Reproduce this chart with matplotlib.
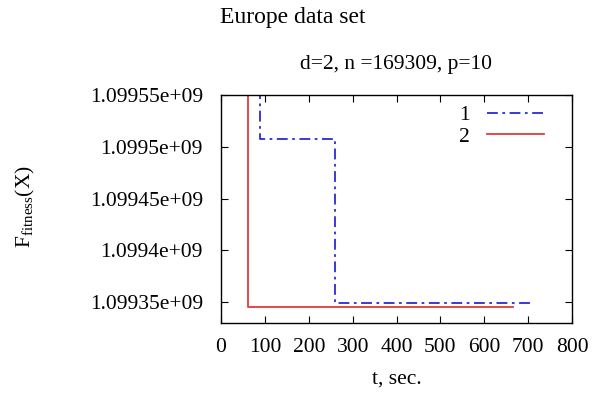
import matplotlib
matplotlib.use("Agg")
import matplotlib.pyplot as plt

# Data
t1 = [89, 89, 260, 260, 704]
f1 = [1.0996e9, 1.0995077e9, 1.0995077e9, 1.099349e9, 1.099349e9]
t2 = [62, 62, 666]
f2 = [1.0996e9, 1.099345e9, 1.099345e9]
xticks = [0, 100, 200, 300, 400, 500, 600, 700, 800]
yticks = [1.09935e9, 1.0994e9, 1.09945e9, 1.0995e9, 1.09955e9]
ytick_labels = ["1.09935e+09", "1.0994e+09", "1.09945e+09", "1.0995e+09", "1.09955e+09"]

plt.rcParams['font.family'] = ['Liberation Serif', 'DejaVu Serif']
plt.rcParams['mathtext.fontset'] = 'custom'
plt.rcParams['mathtext.rm'] = 'Liberation Serif'
plt.rcParams['mathtext.it'] = 'Liberation Serif'

FS = 15.5
fig = plt.figure(figsize=(5.94, 3.93), dpi=100)
ax = fig.add_axes([221/594, 1-323/393, (572-221)/594, (323-95)/393])

ax.plot(t1, f1, color='#2a2ad8', linestyle=(0, (6, 2.5, 1.5, 2.5)), linewidth=1.3, label='1')
ax.plot(t2, f2, color='#e8383c', linestyle='-', linewidth=1.3, label='2')

ax.set_xlim(0, 800)
ax.set_ylim(1.09933e9, 1.09955e9)
ax.set_xticks(xticks)
ax.set_xticklabels([str(v) for v in xticks])
ax.set_yticks(yticks)
ax.set_yticklabels(ytick_labels)
ax.tick_params(direction='in', top=True, right=True, labelsize=FS, length=5, width=0.8)
ax.tick_params(axis='y', pad=13)
ax.tick_params(axis='x', pad=11)
for s in ax.spines.values():
    s.set_linewidth(1.0)

leg = ax.legend(loc='upper right', markerfirst=False, frameon=False, fontsize=FS,
                handlelength=2.65, handletextpad=0.8, borderaxespad=0.0, labelspacing=0.07,
                borderpad=0.0,
                bbox_to_anchor=((544-221)/351, 1-(105-95)/228))

ax.set_xlabel('t, sec.', fontsize=FS, labelpad=9)
fig.text(25/594, 1-207/393, r'F$_{\rm fitness}$(X)', rotation=90, fontsize=FS,
         ha='center', va='center')
fig.text(293/594, 1-17/393, 'Europe data set', fontsize=17, ha='center', va='center')
fig.text(396/594, 1-65/393, 'd=2, n =169309, p=10', fontsize=FS, ha='center', va='center')

fig.savefig('out.png', dpi=100)
